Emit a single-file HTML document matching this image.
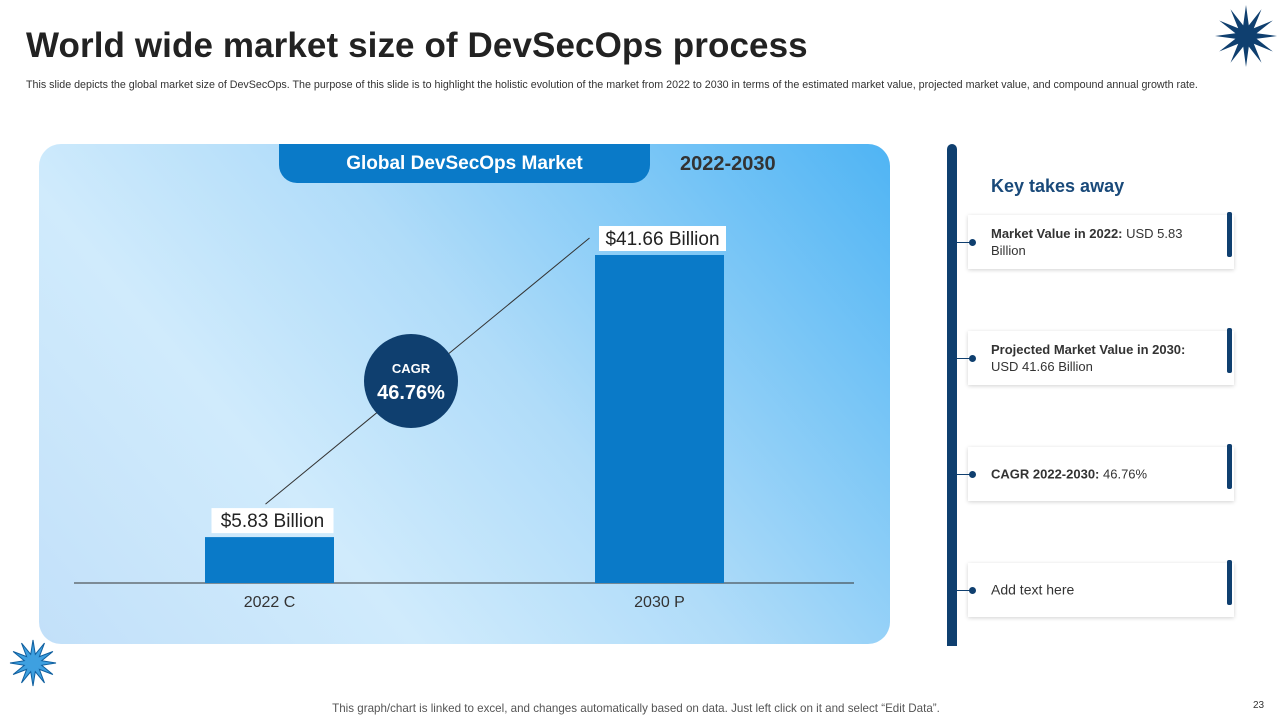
<!DOCTYPE html>
<html><head><meta charset="utf-8">
<style>
body{margin:0;width:1280px;height:720px;background:#fff;font-family:"Liberation Sans",sans-serif;position:relative;overflow:hidden}
.abs{position:absolute}
.card{position:absolute;left:968px;width:266px;height:54px;background:#fff;box-shadow:0 1px 4px rgba(0,0,0,.18);font-size:13px;color:#333;line-height:17px}
.card .t{position:absolute;left:23px;top:50%;transform:translateY(-50%);width:222px}
.card .rb{position:absolute;right:2px;top:-3px;width:5px;height:45px;background:#0f3f6f;border-radius:2px}
.dot{position:absolute;left:969px;width:7px;height:7px;border-radius:50%;background:#0f3f6f}
.tick{position:absolute;left:957px;width:14px;height:1px;background:#0f3f6f}
</style></head><body>
<div class="abs" style="left:26px;top:26px;font-size:35px;font-weight:bold;color:#222;letter-spacing:0.1px">World wide market size of DevSecOps process</div>
<div class="abs" style="left:26px;top:79px;font-size:10.7px;color:#333;white-space:nowrap">This slide depicts the global market size of DevSecOps. The purpose of this slide is to highlight the holistic evolution of the market from 2022 to 2030 in terms of the estimated market value, projected market value, and compound annual growth rate.</div>
<svg class="abs" style="left:1214px;top:4px" width="64" height="64" viewBox="-32 -32 64 64"><polygon id="st" fill="#0f3f6f" points=""/></svg>
<svg class="abs" style="left:9px;top:639px" width="48" height="48" viewBox="-24 -24 48 48"><polygon id="st2" fill="#3ea0e0" stroke="#0f5f9f" stroke-width="1" points=""/></svg>

<div class="abs" style="left:39px;top:144px;width:851px;height:500px;border-radius:22px;background:linear-gradient(50deg,#c2e0f9 0%,#d0ebfc 30%,#b0dcf9 55%,#7ac6f6 80%,#4fb4f4 100%);overflow:hidden"></div>
<div class="abs" style="left:279px;top:144px;width:371px;height:39px;background:#0a7ac8;border-radius:0 0 18px 18px;color:#fff;font-weight:bold;font-size:19px;line-height:39px;text-align:center">Global DevSecOps Market</div>
<div class="abs" style="left:680px;top:153px;font-size:20px;font-weight:bold;color:#333">2022-2030</div>
<svg class="abs" id="chart" style="left:0;top:0" width="1280" height="720"></svg>

<div class="abs" style="left:947px;top:144px;width:10px;height:502px;background:#0f3f6f;border-radius:5px 5px 0 0"></div>
<div class="abs" style="left:991px;top:176px;font-size:18px;font-weight:bold;color:#1a4a7a">Key takes away</div>
<div class="card" style="top:215px"><div class="t"><b>Market Value in 2022:</b> USD 5.83 Billion</div><div class="rb"></div></div>
<div class="card" style="top:331px"><div class="t"><b>Projected Market Value in 2030:</b> USD 41.66 Billion</div><div class="rb"></div></div>
<div class="card" style="top:447px"><div class="t"><b>CAGR 2022-2030:</b> 46.76%</div><div class="rb"></div></div>
<div class="card" style="top:563px"><div class="t" style="font-size:14px">Add text here</div><div class="rb"></div></div>
<div class="tick" style="top:242px"></div><div class="dot" style="top:239px"></div>
<div class="tick" style="top:358px"></div><div class="dot" style="top:355px"></div>
<div class="tick" style="top:474px"></div><div class="dot" style="top:471px"></div>
<div class="tick" style="top:590px"></div><div class="dot" style="top:587px"></div>

<div class="abs" style="left:0;width:1272px;top:702px;text-align:center;font-size:11.6px;color:#555">This graph/chart is linked to excel, and changes automatically based on data. Just left click on it and select “Edit Data”.</div>
<div class="abs" style="left:1253px;top:700px;font-size:10px;color:#333">23</div>

<script>
const categories=["2022 C","2030 P"];
const values=[5.83,41.66];
const valueLabels=["$5.83 Billion","$41.66 Billion"];
const cagrText="46.76%";
function star(id,n,R,r){let p=[];for(let i=0;i<2*n;i++){const a=Math.PI*i/n-Math.PI/2,rr=i%2?r:R;p.push((rr*Math.cos(a)).toFixed(1)+","+(rr*Math.sin(a)).toFixed(1));}document.getElementById(id).setAttribute("points",p.join(" "));}
star("st",12,31,11);star("st2",12,23,9);
const NS="http://www.w3.org/2000/svg",svg=document.getElementById("chart");
const base=583,scaleY=328/41.66;
const y=v=>base-v*scaleY;
const xC=i=>269.5+i*390,bw=129;
function mk(t,a,txt){const e=document.createElementNS(NS,t);for(const k in a)e.setAttribute(k,a[k]);if(txt)e.textContent=txt;svg.appendChild(e);return e;}
let l=mk("line",{x1:74,x2:854,y1:base,y2:base,stroke:"#333","stroke-width":1});


const tops=[];
categories.forEach((c,i)=>{
 const b=mk("rect",{x:xC(i)-bw/2,y:y(values[i]),width:bw,height:base-y(values[i]),fill:"#0a7ac8"});
 
 
 const t=mk("text",{x:xC(i),y:base+24,"text-anchor":"middle","font-size":16,fill:"#333"},c);
 
 
 const w=i?127:122,yt=y(values[i])-29;
 const bg=mk("rect",{x:xC(i)-w/2+3,y:yt,width:w,height:25,fill:"#fff"});
 
 
 const vl=mk("text",{x:xC(i)+3,y:yt+19,"text-anchor":"middle","font-size":19,fill:"#222"},valueLabels[i]);
 
 
 tops.push([xC(i),yt]);
});
const ln=mk("line",{x1:tops[0][0]-4,y1:tops[0][1]-4,x2:tops[1][0]-70,y2:tops[1][1]+12,stroke:"#333","stroke-width":1});


const cx=411,cy=381;
const c=mk("circle",{cx:cx,cy:cy,r:47,fill:"#0f3f6f"});


const t1=mk("text",{x:cx,y:cy-8,"text-anchor":"middle","font-size":13,"font-weight":"bold",fill:"#fff"},"CAGR");


const t2=mk("text",{x:cx,y:cy+18,"text-anchor":"middle","font-size":20,"font-weight":"bold",fill:"#fff"},cagrText);


</script>
</body></html>
